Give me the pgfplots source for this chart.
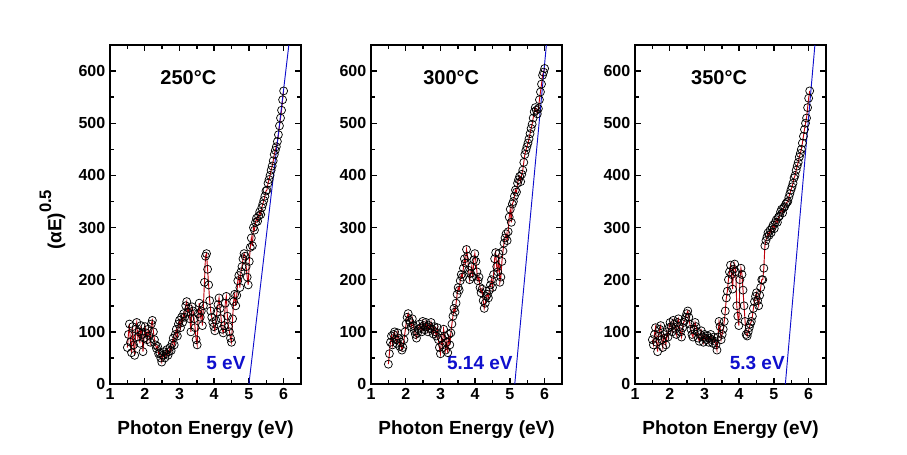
\documentclass[border=0pt]{standalone}
\usepackage{pgfplots}
\pgfplotsset{compat=1.18}
\usepackage{fontspec}
\setmainfont{Liberation Sans}
\definecolor{fitblue}{RGB}{15,15,205}
\definecolor{datred}{RGB}{190,0,10}
\pgfplotsset{
  panel/.style={
    scale only axis, width=143.25pt, height=254.25pt,
    anchor=south west,
    xmin=1, xmax=6.5, ymin=0, ymax=650,
    xtick={1,2,3,4,5,6}, ytick={0,100,200,300,400,500,600},
    minor x tick num=1, minor y tick num=1,
    tick align=inside,
    major tick length=4.5pt, minor tick length=3pt,
    axis line style={line width=1.4pt},
    every tick/.style={black, line width=1.1pt},
    tick label style={font=\fontsize{12}{14}\selectfont\bfseries},
    /pgf/number format/assume math mode=true,
    xlabel={Photon Energy (eV)},
    xlabel style={font=\fontsize{14.25}{16}\selectfont\bfseries, yshift=-9pt},
  },
  dat/.style={datred, line width=0.7pt, mark=o, mark size=3pt,
    mark options={black, line width=0.55pt, solid}},
  fit/.style={fitblue, line width=0.7pt, no marks},
}
\begin{document}
\begin{tikzpicture}
\useasboundingbox (0,0) rectangle (680.25pt,340.5pt);
% ---------------- 250 C
\begin{axis}[panel, at={(82.5pt,52.5pt)},
  ylabel={(αE)\raisebox{0.55em}{\fontsize{12.5}{14}\selectfont 0.5}},
  ylabel style={font=\fontsize{14.25}{16}\selectfont\bfseries, xshift=-4pt, yshift=3pt}]
\addplot[dat] coordinates {
(1.50,70)(1.53,95)(1.56,115)(1.59,80)(1.62,60)(1.65,110)(1.68,75)(1.71,55)(1.74,105)(1.77,118)
(1.80,90)(1.83,100)(1.86,78)(1.89,112)(1.92,95)(1.95,62)(1.98,88)(2.01,110)(2.04,98)(2.07,85)
(2.10,105)(2.13,92)(2.16,80)(2.19,115)(2.22,122)(2.25,100)(2.28,85)(2.31,75)(2.34,68)(2.37,72)
(2.40,58)(2.43,60)(2.46,50)(2.49,42)(2.52,55)(2.55,62)(2.58,50)(2.61,58)(2.64,66)(2.67,55)
(2.70,62)(2.73,70)(2.76,64)(2.79,78)(2.82,88)(2.85,75)(2.88,95)(2.91,105)(2.94,92)(2.97,115)
(3.00,122)(3.03,108)(3.06,128)(3.09,118)(3.12,135)(3.15,128)(3.18,150)(3.21,158)(3.24,138)(3.27,145)
(3.30,125)(3.33,100)(3.36,148)(3.39,140)(3.42,125)(3.45,108)(3.48,85)(3.51,75)(3.54,135)(3.57,155)
(3.60,128)(3.63,140)(3.66,112)(3.69,150)(3.72,195)(3.75,245)(3.78,250)(3.81,220)(3.84,190)(3.87,160)
(3.90,140)(3.93,128)(3.96,118)(3.99,110)(4.02,102)(4.05,122)(4.08,138)(4.11,152)(4.14,165)(4.17,145)
(4.20,125)(4.23,105)(4.26,98)(4.29,112)(4.32,155)(4.35,168)(4.38,130)(4.41,110)(4.44,100)(4.47,88)
(4.50,80)(4.53,125)(4.56,158)(4.59,172)(4.62,150)(4.65,170)(4.68,198)(4.71,208)(4.74,185)(4.77,215)
(4.80,225)(4.83,240)(4.86,250)(4.89,245)(4.92,225)(4.95,205)(4.98,190)(5.01,235)(5.04,262)(5.07,280)
(5.10,265)(5.13,300)(5.16,295)(5.19,310)(5.22,318)(5.25,312)(5.28,322)(5.31,330)(5.34,325)(5.37,338)
(5.40,345)(5.43,352)(5.46,360)(5.49,370)(5.52,372)(5.55,385)(5.58,392)(5.61,400)(5.64,410)(5.67,418)
(5.70,428)(5.73,440)(5.76,448)(5.79,455)(5.82,465)(5.85,478)(5.88,495)(5.91,510)(5.94,525)(5.97,545)
(6.00,562)};
\addplot[fit] coordinates {(5.0,0)(6.15,650)};
\node[font=\fontsize{15}{17}\selectfont\bfseries] at (rel axis cs:0.41,0.903) {250°C};
\node[font=\fontsize{14.25}{16}\selectfont\bfseries, text=fitblue] at (rel axis cs:0.607,0.062) {5 eV};
\end{axis}
% ---------------- 300 C
\begin{axis}[panel, at={(278.25pt,52.5pt)}]
\addplot[dat] coordinates {
(1.50,38)(1.53,58)(1.56,80)(1.59,92)(1.62,75)(1.65,95)(1.68,100)(1.71,85)(1.74,78)(1.77,98)
(1.80,88)(1.83,72)(1.86,80)(1.89,65)(1.92,70)(1.95,85)(1.98,100)(2.01,115)(2.04,128)(2.07,135)
(2.10,122)(2.13,118)(2.16,110)(2.19,125)(2.22,112)(2.25,102)(2.28,95)(2.31,88)(2.34,98)(2.37,105)
(2.40,115)(2.43,108)(2.46,100)(2.49,120)(2.52,112)(2.55,104)(2.58,118)(2.61,110)(2.64,100)(2.67,112)
(2.70,106)(2.73,118)(2.76,105)(2.79,96)(2.82,110)(2.85,100)(2.88,92)(2.91,108)(2.94,85)(2.97,70)
(3.00,58)(3.03,88)(3.06,75)(3.09,105)(3.12,92)(3.15,65)(3.18,80)(3.21,60)(3.24,95)(3.27,75)
(3.30,98)(3.33,115)(3.36,130)(3.39,145)(3.42,138)(3.45,155)(3.48,172)(3.51,185)(3.54,180)(3.57,198)
(3.60,210)(3.63,205)(3.66,222)(3.69,240)(3.72,232)(3.75,258)(3.78,245)(3.81,218)(3.84,200)(3.87,212)
(3.90,225)(3.93,205)(3.96,238)(3.99,250)(4.02,235)(4.05,215)(4.08,198)(4.11,205)(4.14,185)(4.17,175)
(4.20,182)(4.23,160)(4.26,145)(4.29,155)(4.32,168)(4.35,172)(4.38,165)(4.41,180)(4.44,190)(4.47,200)
(4.50,185)(4.53,210)(4.56,240)(4.59,252)(4.62,225)(4.65,215)(4.68,250)(4.71,195)(4.74,205)(4.77,235)
(4.80,255)(4.83,270)(4.86,280)(4.89,288)(4.92,275)(4.95,292)(4.98,320)(5.01,335)(5.04,310)(5.07,345)
(5.10,350)(5.13,360)(5.16,372)(5.19,368)(5.22,385)(5.25,392)(5.28,398)(5.31,388)(5.34,402)(5.37,410)
(5.40,425)(5.43,440)(5.46,448)(5.49,455)(5.52,462)(5.55,470)(5.58,480)(5.61,490)(5.64,498)(5.67,510)
(5.70,522)(5.73,530)(5.76,525)(5.79,518)(5.82,528)(5.85,545)(5.88,560)(5.91,575)(5.94,592)(5.97,598)
(6.00,605)};
\addplot[fit] coordinates {(5.14,0)(6.05,650)};
\node[font=\fontsize{15}{17}\selectfont\bfseries] at (rel axis cs:0.42,0.903) {300°C};
\node[font=\fontsize{14.25}{16}\selectfont\bfseries, text=fitblue] at (rel axis cs:0.57,0.062) {5.14 eV};
\end{axis}
% ---------------- 350 C
\begin{axis}[panel, at={(476.25pt,52.5pt)}]
\addplot[dat] coordinates {
(1.50,85)(1.53,75)(1.56,95)(1.59,108)(1.62,80)(1.65,62)(1.68,92)(1.71,105)(1.74,112)(1.77,85)
(1.80,70)(1.83,95)(1.86,88)(1.89,75)(1.92,100)(1.95,90)(1.98,108)(2.01,118)(2.04,110)(2.07,100)
(2.10,122)(2.13,115)(2.16,105)(2.19,95)(2.22,118)(2.25,125)(2.28,110)(2.31,100)(2.34,90)(2.37,108)
(2.40,118)(2.43,122)(2.46,128)(2.49,135)(2.52,140)(2.55,128)(2.58,115)(2.61,105)(2.64,95)(2.67,90)
(2.70,105)(2.73,118)(2.76,110)(2.79,100)(2.82,88)(2.85,82)(2.88,95)(2.91,102)(2.94,90)(2.97,80)
(3.00,95)(3.03,88)(3.06,85)(3.09,92)(3.12,80)(3.15,88)(3.18,95)(3.21,85)(3.24,78)(3.27,90)
(3.30,82)(3.33,75)(3.36,65)(3.39,90)(3.42,120)(3.45,110)(3.48,85)(3.51,95)(3.54,105)(3.57,120)
(3.60,140)(3.63,165)(3.66,178)(3.69,200)(3.72,215)(3.75,228)(3.78,210)(3.81,182)(3.84,220)(3.87,230)
(3.90,215)(3.93,150)(3.96,130)(3.99,112)(4.02,200)(4.05,222)(4.08,210)(4.11,180)(4.14,150)(4.17,120)
(4.20,95)(4.23,92)(4.26,100)(4.29,108)(4.32,115)(4.35,120)(4.38,130)(4.41,145)(4.44,158)(4.47,168)
(4.50,175)(4.53,160)(4.56,150)(4.59,170)(4.62,185)(4.65,200)(4.68,200)(4.71,222)(4.74,265)(4.77,275)
(4.80,282)(4.83,290)(4.86,285)(4.89,295)(4.92,290)(4.95,300)(4.98,305)(5.01,298)(5.04,310)(5.07,315)
(5.10,310)(5.13,320)(5.16,322)(5.19,330)(5.22,335)(5.25,328)(5.28,338)(5.31,340)(5.34,345)(5.37,348)
(5.40,350)(5.43,358)(5.46,365)(5.49,372)(5.52,378)(5.55,385)(5.58,395)(5.61,400)(5.64,410)(5.67,418)
(5.70,425)(5.73,435)(5.76,442)(5.79,450)(5.82,462)(5.85,475)(5.88,488)(5.91,500)(5.94,510)(5.97,530)
(6.00,548)(6.03,562)};
\addplot[fit] coordinates {(5.33,0)(6.18,650)};
\node[font=\fontsize{15}{17}\selectfont\bfseries] at (rel axis cs:0.44,0.903) {350°C};
\node[font=\fontsize{14.25}{16}\selectfont\bfseries, text=fitblue] at (rel axis cs:0.64,0.062) {5.3 eV};
\end{axis}
\end{tikzpicture}
\end{document}
